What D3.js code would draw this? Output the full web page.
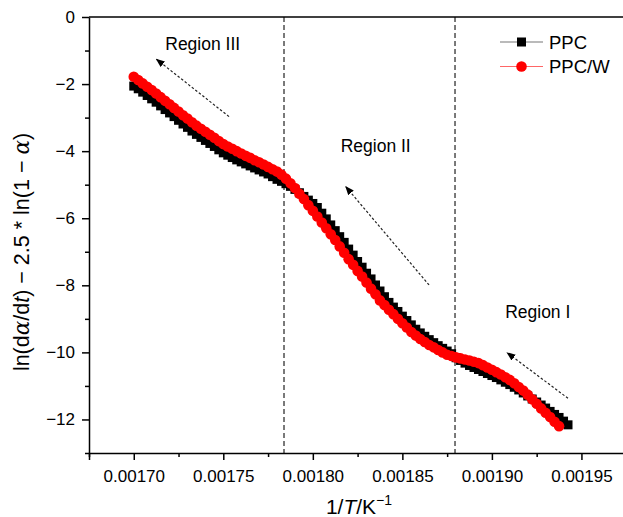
<!DOCTYPE html>
<html>
<head>
<meta charset="utf-8">
<script src="https://cdn.jsdelivr.net/npm/d3@7"></script>
<style>
    html, body { margin: 0; padding: 0; background: #fff; }
    #mainChart { width: 623px; height: 517px; overflow: hidden; }
    text { font-family: "Liberation Sans", Arial, sans-serif; fill: #000; }
</style>
</head>
<body>
<div id="mainChart"></div>
<script>
// 1/T values (K^-1)
const invT = [
    0.0017000, 0.0017025, 0.0017050, 0.0017075, 0.0017100, 0.0017125, 0.0017150, 0.0017175,
    0.0017200, 0.0017225, 0.0017250, 0.0017275, 0.0017300, 0.0017325, 0.0017350, 0.0017375,
    0.0017400, 0.0017425, 0.0017450, 0.0017475, 0.0017500, 0.0017525, 0.0017550, 0.0017575,
    0.0017600, 0.0017625, 0.0017650, 0.0017675, 0.0017700, 0.0017725, 0.0017750, 0.0017775,
    0.0017800, 0.0017825, 0.0017850, 0.0017875, 0.0017900, 0.0017925, 0.0017950, 0.0017975,
    0.0018000, 0.0018025, 0.0018050, 0.0018075, 0.0018100, 0.0018125, 0.0018150, 0.0018175,
    0.0018200, 0.0018225, 0.0018250, 0.0018275, 0.0018300, 0.0018325, 0.0018350, 0.0018375,
    0.0018400, 0.0018425, 0.0018450, 0.0018475, 0.0018500, 0.0018525, 0.0018550, 0.0018575,
    0.0018600, 0.0018625, 0.0018650, 0.0018675, 0.0018700, 0.0018725, 0.0018750, 0.0018775,
    0.0018800, 0.0018825, 0.0018850, 0.0018875, 0.0018900, 0.0018925, 0.0018950, 0.0018975,
    0.0019000, 0.0019025, 0.0019050, 0.0019075, 0.0019100, 0.0019125, 0.0019150, 0.0019175,
    0.0019200, 0.0019225, 0.0019250, 0.0019275, 0.0019300, 0.0019325, 0.0019350, 0.0019375,
    0.0019400, 0.0019425
];

// PPC
const ppc = [
    -2.06, -2.14, -2.24, -2.34, -2.44, -2.54, -2.65, -2.76,
    -2.86, -2.97, -3.08, -3.19, -3.29, -3.40, -3.50, -3.59,
    -3.68, -3.77, -3.86, -3.96, -4.05, -4.12, -4.19, -4.26,
    -4.32, -4.38, -4.44, -4.50, -4.56, -4.62, -4.68, -4.76,
    -4.84, -4.90, -4.97, -5.05, -5.14, -5.24, -5.35, -5.46,
    -5.56, -5.68, -5.85, -6.02, -6.20, -6.37, -6.55, -6.72,
    -6.92, -7.10, -7.29, -7.46, -7.64, -7.81, -7.99, -8.17,
    -8.34, -8.51, -8.65, -8.78, -8.92, -9.05, -9.18, -9.31,
    -9.42, -9.52, -9.62, -9.71, -9.80, -9.88, -9.96, -10.04,
    -10.16, -10.24, -10.32, -10.39, -10.45, -10.51, -10.57, -10.63,
    -10.69, -10.75, -10.82, -10.89, -10.96, -11.04, -11.12, -11.21,
    -11.30, -11.39, -11.48, -11.57, -11.66, -11.76, -11.85, -11.94,
    -12.05, -12.16
];

// PPC/W (ends two steps earlier)
const ppcW = [
    -1.78, -1.88, -1.98, -2.08, -2.18, -2.28, -2.39, -2.50,
    -2.60, -2.71, -2.82, -2.93, -3.03, -3.14, -3.24, -3.33,
    -3.42, -3.51, -3.60, -3.70, -3.79, -3.86, -3.93, -4.00,
    -4.07, -4.14, -4.20, -4.27, -4.33, -4.40, -4.47, -4.54,
    -4.61, -4.70, -4.82, -4.96, -5.10, -5.27, -5.43, -5.61,
    -5.78, -5.95, -6.13, -6.30, -6.48, -6.65, -6.84, -7.03,
    -7.22, -7.39, -7.57, -7.74, -7.92, -8.10, -8.27, -8.45,
    -8.59, -8.73, -8.86, -9.00, -9.13, -9.26, -9.39, -9.50,
    -9.60, -9.69, -9.78, -9.85, -9.93, -10.00, -10.07, -10.11,
    -10.15, -10.18, -10.21, -10.24, -10.28, -10.32, -10.38, -10.45,
    -10.52, -10.59, -10.66, -10.74, -10.82, -10.92, -11.03, -11.14,
    -11.26, -11.40, -11.53, -11.67, -11.80, -11.93, -12.07, -12.20
];

const seriesNames = ["PPC", "PPC/W"];
const xTickValues = [0.00170, 0.00175, 0.00180, 0.00185, 0.00190, 0.00195];
const xTickLabels = ["0.00170", "0.00175", "0.00180", "0.00185", "0.00190", "0.00195"];
const yTickValues = [0, -2, -4, -6, -8, -10, -12];

// region boundaries (1/T) and annotations
const boundaries = [0.0017839, 0.0018794];
const regionLabels = ["Region III", "Region II", "Region I"];
const regionLabelPos = [[0.0017385, -0.98], [0.0018351, -4.02], [0.0019256, -8.97]];
const regionArrows = [
    [[0.0017532, -2.97], [0.0017127, -1.26]],
    [[0.0018649, -7.99], [0.0018184, -5.06]],
    [[0.0019425, -11.37], [0.0019085, -10.01]]
];

const width = 623;
const height = 517;
const margin = { top: 17, left: 89, bottom: 64 };

const svg = d3.select("#mainChart").append("svg")
    .attr("width", width)
    .attr("height", height);

const x = d3.scaleLinear()
    .domain([0.001675, 0.001975])
    .range([margin.left, margin.left + 537.2]);

const y = d3.scaleLinear()
    .domain([-13, 0])
    .range([height - margin.bottom, margin.top]);

const plotBottom = y(-13);
const plotTop = y(0);

svg.append("defs").append("marker")
    .attr("id", "arrowHead")
    .attr("viewBox", "0 0 10 10")
    .attr("refX", 9)
    .attr("refY", 5)
    .attr("markerWidth", 9)
    .attr("markerHeight", 9)
    .attr("markerUnits", "userSpaceOnUse")
    .attr("orient", "auto")
    .append("path")
    .attr("d", "M0,1 L10,5 L0,9 Z")
    .attr("fill", "#000");

// 区域分界虚线
svg.selectAll(".boundary")
    .data(boundaries)
    .join("line")
    .attr("class", "boundary")
    .attr("x1", d => x(d))
    .attr("x2", d => x(d))
    .attr("y1", plotTop)
    .attr("y2", plotBottom)
    .attr("stroke", "#222")
    .attr("stroke-width", 1.2)
    .attr("stroke-dasharray", "5,3");

// 横轴
svg.append("g")
    .attr("transform", `translate(0,${plotBottom})`)
    .call(d3.axisBottom(x).tickValues(xTickValues).tickSize(7).tickPadding(10)
        .tickFormat((d, i) => xTickLabels[i]));
svg.append("g")
    .attr("transform", `translate(0,${plotBottom})`)
    .call(d3.axisBottom(x).tickValues([0.001675, 0.001725, 0.001775, 0.001825, 0.001875, 0.001925])
        .tickSize(4).tickFormat(""))
    .call(g => g.select(".domain").remove());

// 纵轴
svg.append("g")
    .attr("transform", `translate(${margin.left},0)`)
    .call(d3.axisLeft(y).tickValues(yTickValues).tickSize(7).tickPadding(7).tickSizeOuter(0));
svg.append("g")
    .attr("transform", `translate(${margin.left},0)`)
    .call(d3.axisLeft(y).tickValues([-1, -3, -5, -7, -9, -11, -13]).tickSize(4).tickFormat(""))
    .call(g => g.select(".domain").remove());

// 上边框
svg.append("line")
    .attr("x1", margin.left)
    .attr("x2", width)
    .attr("y1", plotTop)
    .attr("y2", plotTop)
    .attr("stroke", "#000")
    .attr("stroke-width", 1.5);

svg.selectAll(".domain, .tick line")
    .attr("stroke", "#000")
    .attr("stroke-width", 1.5);
svg.selectAll(".tick text")
    .attr("font-size", 17)
    .attr("font-family", "Liberation Sans, Arial, sans-serif")
    .attr("fill", "#000");

// 数据
const ppcData = ppc.map((v, i) => ({ x: invT[i], y: v }));
const ppcWData = ppcW.map((v, i) => ({ x: invT[i], y: v }));

const line = d3.line()
    .x(d => x(d.x))
    .y(d => y(d.y));

svg.append("path")
    .datum(ppcData)
    .attr("fill", "none")
    .attr("stroke", "#555")
    .attr("stroke-width", 1)
    .attr("d", line);

svg.selectAll(".ppc-pt")
    .data(ppcData)
    .join("rect")
    .attr("class", "ppc-pt")
    .attr("x", d => x(d.x) - 4.5)
    .attr("y", d => y(d.y) - 4.5)
    .attr("width", 9)
    .attr("height", 9)
    .attr("fill", "#000");

svg.append("path")
    .datum(ppcWData)
    .attr("fill", "none")
    .attr("stroke", "#f33")
    .attr("stroke-width", 1)
    .attr("d", line);

svg.selectAll(".ppcw-pt")
    .data(ppcWData)
    .join("circle")
    .attr("class", "ppcw-pt")
    .attr("cx", d => x(d.x))
    .attr("cy", d => y(d.y))
    .attr("r", 5.3)
    .attr("fill", "#ff0000");

// 区域标注
svg.selectAll(".region-label")
    .data(regionLabels)
    .join("text")
    .attr("class", "region-label")
    .attr("x", (d, i) => x(regionLabelPos[i][0]))
    .attr("y", (d, i) => y(regionLabelPos[i][1]))
    .attr("text-anchor", "middle")
    .attr("font-size", 17.5)
    .text(d => d);

svg.selectAll(".region-arrow")
    .data(regionArrows)
    .join("line")
    .attr("class", "region-arrow")
    .attr("x1", d => x(d[0][0]))
    .attr("y1", d => y(d[0][1]))
    .attr("x2", d => x(d[1][0]))
    .attr("y2", d => y(d[1][1]))
    .attr("stroke", "#222")
    .attr("stroke-width", 1.2)
    .attr("stroke-dasharray", "2.5,2")
    .attr("marker-end", "url(#arrowHead)");

// 图例
const legend = svg.append("g")
    .attr("transform", "translate(500,42)");
const legendColors = ["#777", "#f66"];
seriesNames.forEach((name, i) => {
    const row = legend.append("g").attr("transform", `translate(0,${i * 24.5})`);
    row.append("line")
        .attr("x1", 0).attr("x2", 43)
        .attr("stroke", legendColors[i])
        .attr("stroke-width", 1.2);
    if (i === 0) {
        row.append("rect")
            .attr("x", 17).attr("y", -4.5)
            .attr("width", 9).attr("height", 9)
            .attr("fill", "#000");
    } else {
        row.append("circle")
            .attr("cx", 21.5).attr("r", 5.3)
            .attr("fill", "#ff0000");
    }
    row.append("text")
        .attr("x", 49)
        .attr("y", 6.5)
        .attr("font-size", 18.5)
        .text(name);
});

// 轴标题
const xTitle = svg.append("text")
    .attr("x", 359)
    .attr("y", 514)
    .attr("text-anchor", "middle")
    .attr("font-size", 21);
xTitle.append("tspan").text("1/");
xTitle.append("tspan").attr("font-style", "italic").text("T");
xTitle.append("tspan").text("/K");
xTitle.append("tspan").attr("font-size", 14).attr("dy", -9).text("\u22121");

const yTitle = svg.append("text")
    .attr("transform", "translate(29,252) rotate(-90)")
    .attr("text-anchor", "middle")
    .attr("font-size", 21.5);
yTitle.append("tspan").text("ln(d");
yTitle.append("tspan").attr("font-style", "italic").attr("font-family", "DejaVu Serif, serif").text("\u03b1");
yTitle.append("tspan").text("/d");
yTitle.append("tspan").attr("font-style", "italic").text("t");
yTitle.append("tspan").text(") \u2212 2.5 * ln(1 \u2212 ");
yTitle.append("tspan").attr("font-style", "italic").attr("font-family", "DejaVu Serif, serif").text("\u03b1");
yTitle.append("tspan").text(")");
</script>
</body>
</html>
